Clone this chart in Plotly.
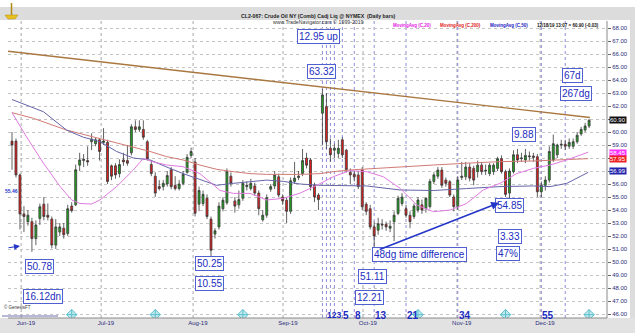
import plotly.graph_objects as go

W, H = 635, 333

# ---------------- data ----------------
OPEN = [59.3,59.3,56.7,53.7,53.1,53.1,51.8,53.35,54.45,53.6,53.3,51.3,52.3,52.6,52.2,54.3,54.4,57.45,57.8,57.8,
        59.25,59.1,59.4,59.2,59.2,57.4,57.4,56.8,57.85,57.8,58.4,60.4,60.2,60.2,59.25,57.5,56.6,55.8,55.8,56.0,
        57.1,55.9,55.65,56.05,56.9,58.2,57.7,54.45,54.5,54.9,53.3,52.15,52.7,54.1,54.55,56.6,54.7,54.4,54.9,55.8,
        55.65,55.85,55.3,53.25,53.6,55.6,55.85,56.55,55.0,54.75,53.9,56.2,56.5,56.8,58.0,57.85,55.9,55.15,61.45,61.95,
        58.75,58.6,58.35,59.4,58.6,56.9,56.75,56.7,57.1,54.45,54.1,52.7,52.45,52.9,52.9,52.6,53.1,53.74,54.5,54.1,
        53.6,53.5,54.0,54.4,54.1,54.26,56.2,56.6,57.07,56.3,56.18,55.0,54.26,56.5,56.55,57.3,57.2,56.95,57.45,57.0,
        56.8,56.95,57.2,57.95,56.95,55.3,56.95,58.25,57.95,57.85,58.1,58.15,58.1,55.4,55.9,56.3,57.85,58.25,59.0,59.05,
        58.9,58.9,59.25,59.85,60.15,60.46]
HIGH = [60.0,59.5,56.8,54.3,54.0,53.4,53.2,54.5,55.0,54.5,53.5,53.3,53.0,53.0,54.4,54.6,57.5,58.4,58.3,58.9,
        59.9,59.6,59.5,60.3,59.4,57.5,57.6,57.9,58.4,59.0,60.6,60.9,60.9,60.9,59.4,57.85,56.9,56.3,56.3,57.0,
        57.3,56.6,56.3,57.0,58.3,58.8,58.0,55.8,55.5,55.2,53.5,52.6,54.6,55.0,57.2,56.9,55.0,55.5,56.3,56.2,
        56.4,56.1,55.5,54.0,55.2,56.0,57.0,56.8,55.2,55.0,56.5,57.7,57.0,58.7,58.4,58.0,56.1,55.3,63.32,63.0,
        59.5,59.1,59.4,59.6,58.7,57.2,57.0,57.0,57.3,54.6,54.4,53.1,53.4,53.3,53.1,53.2,53.9,55.1,55.3,54.4,
        53.9,54.5,55.0,54.8,55.0,56.4,56.9,57.3,57.3,56.5,56.3,55.2,56.6,57.7,57.7,57.6,57.4,57.8,57.7,57.5,
        57.6,57.6,58.1,58.2,57.1,57.2,58.6,58.7,58.4,58.7,58.5,58.4,58.3,56.2,56.6,58.9,59.8,59.1,59.4,59.4,
        59.5,59.5,60.0,60.4,60.7,60.99]
LOW = [57.1,56.5,52.5,52.3,52.8,50.78,51.3,52.85,53.2,53.2,51.05,51.0,52.0,51.8,52.0,53.8,54.3,57.0,57.3,57.4,
       58.6,58.9,57.8,59.0,56.0,56.3,56.4,56.5,57.4,57.4,58.2,60.0,60.0,59.4,57.8,56.6,55.0,55.5,55.5,55.8,
       55.6,55.5,55.5,55.9,56.8,58.0,53.5,53.9,54.3,53.3,50.25,51.8,52.5,53.9,54.4,55.8,53.8,54.1,54.7,55.5,
       55.5,55.1,53.6,53.1,53.4,55.4,55.6,55.0,54.4,53.0,53.7,56.0,56.3,56.6,57.2,55.5,54.6,54.0,59.0,58.7,
       57.7,58.0,58.0,58.0,56.9,56.0,56.2,55.6,54.0,53.6,52.5,51.11,52.1,52.5,52.4,52.3,51.6,53.6,54.3,53.4,
       52.6,53.3,53.8,53.7,53.8,54.1,56.0,56.4,55.7,55.8,55.0,53.9,54.0,56.3,56.3,56.2,55.9,56.5,56.7,56.7,
       56.6,56.7,57.0,56.8,55.0,54.85,56.8,57.6,57.7,57.6,57.8,57.7,55.0,55.0,55.5,56.1,57.7,58.0,58.7,58.6,
       58.7,58.7,59.1,59.7,60.0,60.3]
CLOSE = [59.0,56.7,53.7,53.5,53.6,51.8,52.85,54.25,53.5,53.45,51.3,52.7,52.7,52.1,54.1,53.95,57.1,57.85,57.9,57.7,
         59.45,59.4,58.5,59.3,56.2,56.6,56.7,57.5,57.7,57.6,60.4,60.2,60.4,59.6,57.95,56.8,55.3,55.65,56.05,56.65,
         55.8,55.65,56.0,56.75,58.05,58.5,53.75,55.5,55.2,53.5,50.9,52.4,54.3,54.75,56.95,56.05,54.3,54.8,56.05,55.9,
         56.05,55.3,54.1,53.6,54.95,55.8,56.7,55.15,54.7,53.9,56.25,56.45,56.6,57.8,57.45,55.8,55.0,54.8,62.85,59.25,
         58.25,58.75,58.75,58.25,57.1,56.7,56.55,55.8,54.25,53.9,52.7,52.0,52.95,52.85,52.7,52.75,53.6,54.9,55.0,53.6,
         53.1,54.3,54.77,54.0,54.9,56.2,56.7,57.07,55.9,56.05,55.15,54.26,56.3,56.6,57.3,56.45,56.3,57.45,56.95,57.05,
         57.45,57.45,57.95,56.95,55.2,57.0,58.25,57.85,58.0,58.2,58.15,58.05,55.4,55.9,56.3,58.5,59.1,59.0,59.05,58.9,
         59.2,59.25,59.75,60.2,60.46,60.9]
BARS = list(range(len(CLOSE)))

# moving averages read as sampled points (bar index, value)
MA20_X = [0,3.7,7.9,12.1,15,17.1,20,22.1,26.3,30.5,33,35.5,38.9,43,47.2,50.6,52.3,55.6,59.8,64,68.2,72.4,76.6,80.7,84.9,89.1,93.3,97.5,101.7,105.9,110.1,114.2,118.4,122.6,126.8,131,135.2,139.4,144.8]
MA20_Y = [61.49,59.6,57.6,55.8,54.77,54.5,54.46,54.77,55.8,57.08,57.97,57.7,57.46,57.33,56.8,55.9,55.5,55.28,55.28,54.77,54.9,55.3,55.9,56.56,57.03,56.95,56.56,55.67,54.38,53.87,54.0,54.5,55.54,56.05,56.8,57.2,57.46,57.85,58.45]
MA200_X = [0,5.4,13.7,22.1,30.5,34.7,38.9,43,47.2,51.4,55.6,59.8,64,72.4,77.4,80.7,84.9,97.5,105.9,114.2,122.6,131,139.4,144.8]
MA200_Y = [61.49,61.05,60.15,59.5,58.87,58.5,58.1,57.85,57.46,57.13,56.95,56.8,56.74,56.74,56.8,56.95,57.08,57.33,57.46,57.6,57.72,57.77,57.85,57.95]
MA50_X = [0,7.9,13.7,17.9,22.1,26.3,30.5,34.7,38.9,43,47.2,51.4,55.6,59.8,64,68.2,72.4,77.4,84.9,89.1,97.5,105.9,114.2,122.6,131,135.2,139.4,144.8]
MA50_Y = [62.5,61.56,60.15,59.6,59.26,58.5,58.0,57.85,57.3,56.8,56.35,55.9,56.05,56.2,56.3,56.2,56.0,55.9,55.9,55.85,55.54,55.5,55.65,55.8,55.85,55.8,56.05,56.9]

# last values shown in the right-axis boxes
LAST_VALUES = [("60.90", 60.92, "#111111"), ("58.45", 58.42, "#ff33ff"),
               ("57.95", 57.96, "#ee2222"), ("56.99", 57.0, "#2222aa")]

TREND_X = [-1, 145.2]
TREND_Y = [66.21, 61.12]

MONTH_BOUNDS = [2.3, 22.4, 45.5, 68.1, 88.2, 111.8, 132.7]
MONTH_LABELS = ["Jun-19", "Jul-19", "Aug-19", "Sep-19", "Oct-19", "Nov-19", "Dec-19"]

FIB_NUMS = [1, 2, 3, 5, 8, 13, 21, 34, 55]
FIB_TEXT = [("123", 1, 8.5), ("5", 5, 10), ("8", 8, 10), ("13", 13, 10), ("21", 21, 10), ("34", 34, 10), ("55", 55, 10)]
FIB_START = 78
EXTRA_VLINES = [78, 139]

PRICE_TICKS = list(range(46, 69))
HIDDEN_TICKS = [57, 58, 61]   # covered by the value boxes

BOX_LABELS = [
    ("12.95 up", 76.9, 67.31), ("63.32", 77.8, 64.65), ("50.78", 6.8, 49.62), ("16.12dn", 7.8, 47.38),
    ("50.25", 49.7, 49.92), ("10.55", 49.7, 48.31), ("51.11", 90.7, 48.85), ("12.21", 89.7, 47.27),
    ("48dg time difference", 102.5, 50.54), ("54.85", 124.9, 54.38), ("9.88", 128.6, 59.81),
    ("3.33", 125.0, 52.0), ("47%", 124.7, 50.62), ("67d", 140.8, 64.31), ("267dg", 141.8, 63.0),
]
DIAMOND_X = [15, 36, 58, 102, 124, 145]
SUPPORT_X = [92, 122.4]
SUPPORT_Y = [50.92, 54.55]

# ---------------- figure ----------------
X0, X1 = 8, 607      # plot area pixels
Y0, Y1 = 21, 318
XR = [(X0 - 12) / 3.98, (X1 - 12) / 3.98]
YR = [46 - (Y1 - 314) / 13, 46 + (314 - Y0) / 13]

BLUE = "#1c2cc0"
AX = "#2b2b7a"
FONT = "Liberation Sans, Arial"

fig = go.Figure()

fig.add_trace(go.Candlestick(
    x=BARS, open=OPEN, high=HIGH, low=LOW, close=CLOSE,
    increasing=dict(line=dict(color="#3a3a3a", width=0.8), fillcolor="#1fa31f"),
    decreasing=dict(line=dict(color="#3a3a3a", width=0.8), fillcolor="#e41e1e"),
    whiskerwidth=0, showlegend=False, hoverinfo="skip"))

fig.add_trace(go.Scatter(x=MA200_X, y=MA200_Y, mode="lines", line=dict(color="#d27a74", width=1), showlegend=False))
fig.add_trace(go.Scatter(x=MA50_X, y=MA50_Y, mode="lines", line=dict(color="#6464a8", width=1), showlegend=False))
fig.add_trace(go.Scatter(x=MA20_X, y=MA20_Y, mode="lines", line=dict(color="#e07ae0", width=1), showlegend=False))
fig.add_trace(go.Scatter(x=TREND_X, y=TREND_Y, mode="lines", line=dict(color="#a9773f", width=1.4), showlegend=False))
fig.add_trace(go.Scatter(x=DIAMOND_X, y=[45.95] * len(DIAMOND_X), mode="markers",
                         marker=dict(symbol="diamond-cross", size=8, color="#bfe9ee",
                                     line=dict(color="#5cc0cc", width=1)), showlegend=False))

shapes = []
for b in MONTH_BOUNDS:
    shapes.append(dict(type="line", xref="x", yref="paper", x0=b, x1=b, y0=1 - Y1 / H, y1=1 - Y0 / H,
                       line=dict(color="#a8a8a8", width=1, dash="dot"), layer="below"))
for n in FIB_NUMS:
    xv = FIB_START + n
    shapes.append(dict(type="line", xref="x", yref="paper", x0=xv, x1=xv, y0=1 - Y1 / H, y1=1 - Y0 / H,
                       line=dict(color="#8d8dd8", width=1, dash="dot"), layer="below"))
for xv in EXTRA_VLINES:
    shapes.append(dict(type="line", xref="x", yref="paper", x0=xv, x1=xv, y0=1 - Y1 / H, y1=1 - Y0 / H,
                       line=dict(color="#8d8dd8", width=1, dash="dot"), layer="below"))
# header band, axis bands
shapes.append(dict(type="rect", xref="paper", yref="paper", x0=0, x1=1, y0=1 - 20 / H, y1=1 - 7 / H,
                   fillcolor="#dcdcdc", line=dict(width=0), layer="below"))
shapes.append(dict(type="rect", xref="paper", yref="paper", x0=630 / W, x1=1, y0=0, y1=1 - 7 / H,
                   fillcolor="#dcdcdc", line=dict(width=0), layer="below"))
shapes.append(dict(type="rect", xref="paper", yref="paper", x0=0, x1=1, y0=0, y1=1 - Y1 / H,
                   fillcolor="#e2e2e2", line=dict(width=0), layer="below"))
shapes.append(dict(type="line", xref="paper", yref="paper", x0=X0 / W, x1=X1 / W, y0=1 - Y1 / H, y1=1 - Y1 / H,
                   line=dict(color="#8a8a8a", width=1)))
shapes.append(dict(type="line", xref="paper", yref="paper", x0=X1 / W, x1=X1 / W, y0=1 - Y1 / H, y1=1 - Y0 / H,
                   line=dict(color="#8a8a8a", width=1)))
shapes.append(dict(type="line", xref="paper", yref="paper", x0=2 / W, x1=58 / W, y0=1 - 316 / H, y1=1 - 316 / H,
                   line=dict(color="#7070b0", width=1)))
# logo
shapes.append(dict(type="path", xref="paper", yref="paper",
                   path=f"M {5/W},{1-15/H} L {18/W},{1-15/H} L {15/W},{1-19/H} L {8/W},{1-19/H} Z",
                   fillcolor="#e8c020", line=dict(color="#b08a10", width=0.5)))
shapes.append(dict(type="line", xref="paper", yref="paper", x0=11.5 / W, x1=11.5 / W, y0=1 - 15 / H, y1=1 - 3 / H,
                   line=dict(color="#b08a10", width=1.5)))

ann = []
for txt, xv, yv in BOX_LABELS:
    ann.append(dict(x=xv, y=yv, xref="x", yref="y", text=txt, showarrow=False,
                    font=dict(family=FONT, size=10, color=BLUE),
                    bgcolor="white", bordercolor="#5060d0", borderwidth=1, borderpad=1))
for t, n, fs in FIB_TEXT:
    ann.append(dict(x=FIB_START + n, y=45.92, xref="x", yref="y", text=f"<b>{t}</b>", showarrow=False,
                    xanchor="left", xshift=-1, font=dict(family=FONT, size=fs, color=BLUE)))
# support line arrow
ann.append(dict(x=SUPPORT_X[1], y=SUPPORT_Y[1], ax=SUPPORT_X[0], ay=SUPPORT_Y[0], xref="x", yref="y",
                axref="x", ayref="y", showarrow=True, arrowhead=2, arrowsize=1, arrowwidth=1.6,
                arrowcolor="#2436c8", text=""))
# left arrow
ann.append(dict(x=20 / W, y=1 - 246 / H, xref="paper", yref="paper", ax=-13, ay=2,
                showarrow=True, arrowhead=2, arrowsize=1, arrowwidth=1.2, arrowcolor="#2436c8", text=""))
# header texts
ann.append(dict(x=318 / W, y=1 - 11 / H, xref="paper", yref="paper", showarrow=False,
                text="<b>CL2-067: Crude Oil NY (Comb) Cadj Liq @ NYMEX  (Daily bars)</b>",
                font=dict(family=FONT, size=5.2, color="#222222")))
ann.append(dict(x=318 / W, y=1 - 17 / H, xref="paper", yref="paper", showarrow=False,
                text="www.TradeNavigator.com © 1999-2019",
                font=dict(family=FONT, size=5.2, color="#333333")))
legend_items = [("MovingAvg (C,20)", "#e020e0", 391), ("MovingAvg (C,200)", "#e02020", 438),
                ("MovingAvg (C,50)", "#2020c0", 488), ("12/18/19 13:07 = 60.90 (-0.03)", "#111111", 535)]
for t, c, xp in legend_items:
    ann.append(dict(x=xp / W, y=1 - 21 / H, xref="paper", yref="paper", showarrow=False, text=f"<b>{t}</b>",
                    xanchor="left", font=dict(family=FONT, size=4.5, color=c)))
# right axis value boxes (placed at their values)
for t, v, bg in LAST_VALUES:
    ann.append(dict(x=1.0, y=v, xref="x domain", yref="y", showarrow=False, text=t,
                    xanchor="left", xshift=2, font=dict(family=FONT, size=6, color="white"),
                    bgcolor=bg, borderpad=0))
ann.append(dict(x=3 / W, y=1 - 191 / H, xref="paper", yref="paper", showarrow=False, text="<b>55.46</b>",
                xanchor="left", font=dict(family=FONT, size=5, color="#2436c8")))
ann.append(dict(x=2 / W, y=1 - 312 / H, xref="paper", yref="paper", showarrow=False, text="© GenesisFT",
                xanchor="left", font=dict(family=FONT, size=4.5, color="#333333")))

fig.update_layout(
    width=W, height=H, margin=dict(l=0, r=0, t=0, b=0),
    paper_bgcolor="white", plot_bgcolor="white",
    shapes=shapes, annotations=ann, showlegend=False,
    xaxis=dict(domain=[X0 / W, X1 / W], range=XR, rangeslider=dict(visible=False),
               tickvals=[b + 1.2 for b in MONTH_BOUNDS], ticktext=MONTH_LABELS, showgrid=False,
               zeroline=False, ticks="", tickfont=dict(family=FONT, size=6, color=AX)),
    yaxis=dict(domain=[1 - Y1 / H, 1 - Y0 / H], range=YR, side="right",
               tickvals=PRICE_TICKS,
               ticktext=["" if v in HIDDEN_TICKS else f"{v:.2f}" for v in PRICE_TICKS],
               showgrid=True, gridcolor="#c4c4c4", griddash="dot", gridwidth=1, zeroline=False,
               ticks="outside", ticklen=3, tickcolor="#666666",
               tickfont=dict(family=FONT, size=6, color=AX)),
)

fig.write_html("out.html")
